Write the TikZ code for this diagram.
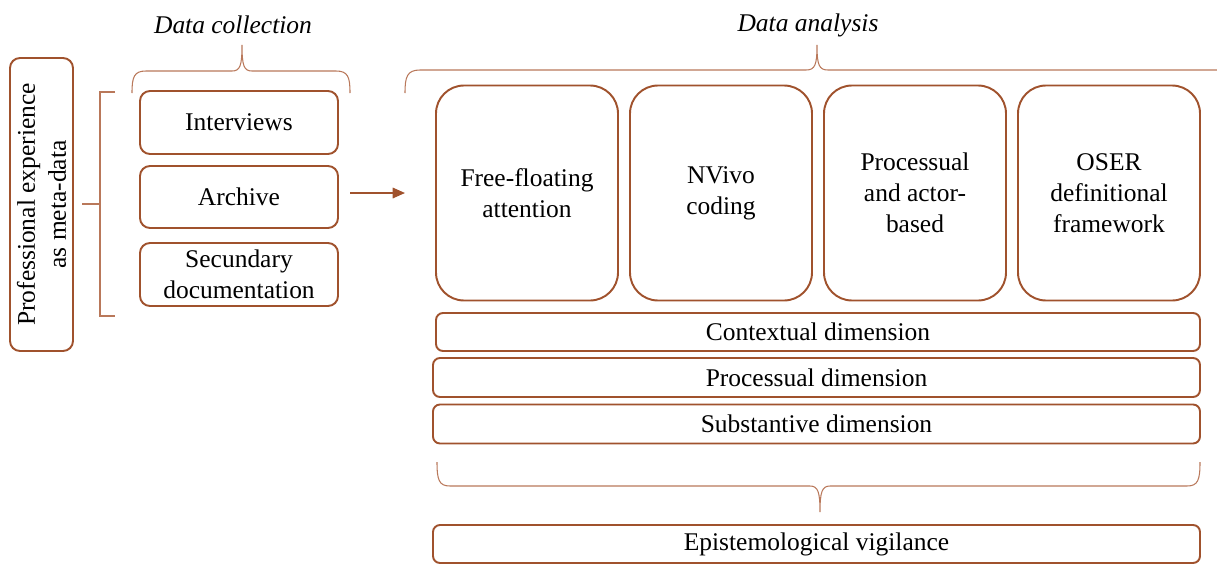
\documentclass[tikz,border=0pt]{standalone}
\usepackage{fontspec}
\setmainfont{Liberation Serif}
\usetikzlibrary{arrows.meta}
\definecolor{brn}{RGB}{160,82,45}
\definecolor{brnlight}{RGB}{185,120,90}
\def\px{0.02cm}
\tikzset{
	box/.style={draw=brn,line width=1.1pt,align=center,inner sep=0pt,
		font=\fontsize{14.5}{17.6}\selectfont},
	smallbox/.style={box,rounded corners=10*\px},
	tallbox/.style={box,rounded corners=28*\px,minimum width=182*\px,minimum height=215*\px},
	dimbox/.style={box,rounded corners=7*\px,minimum width=767*\px,minimum height=38*\px},
	brace/.style={draw=brnlight,line width=0.6pt},
	heading/.style={font=\fontsize{14.5}{17.6}\selectfont\itshape}
}
\begin{document}
\begin{tikzpicture}[>={Triangle[length=7pt,width=6pt]},x=0.02cm,y=-0.02cm]
	\useasboundingbox (0,0) rectangle (1217,565);
	% left side
	\node[smallbox,rotate=90,minimum width=293*\px,minimum height=63*\px] (prof) at (41.5,204.5) {Professional experience\\as meta-data};
	\draw[brace] (115,92) -- (100,92) -- (100,316) -- (115,316);
	\draw[brace] (82,204) -- (100,204);
	% data collection
	\node[heading] (coll) at (233,25) {Data collection};
	\node[smallbox,minimum width=198*\px,minimum height=63*\px] (interv) at (239,122.5) {Interviews};
	\node[smallbox,minimum width=198*\px,minimum height=62*\px] (archive) at (239,197) {Archive};
	\node[smallbox,minimum width=198*\px,minimum height=63*\px] (secund) at (239,274.5) {Secundary\\documentation};
	\draw[brace] (132,93) .. controls (132,77) and (134,71) .. (146,71) -- (232,71)
		.. controls (240,71) and (242,66) .. (242,45) .. controls (242,66) and (244,71) .. (252,71)
		-- (336,71) .. controls (348,71) and (350,77) .. (350,93);
	% arrow
	\coordinate (arrstart) at (350,193);
	\coordinate (arrend) at (405,193);
	\draw[->,draw=brn,line width=0.9pt] (arrstart) -- (arrend);
	% data analysis
	\node[heading] (anal) at (808,25) {Data analysis};
	\draw[brace] (405,93) .. controls (405,77) and (407,70) .. (420,70) -- (806,70)
		.. controls (815,70) and (817,65) .. (817,45) .. controls (817,65) and (819,70) .. (828,70)
		-- (1217,70);
	\node[tallbox] (ffa) at (527,193) {Free-floating\\attention};
	\node[tallbox] (nvivo) at (721,193) {NVivo\\coding};
	\node[tallbox] (proc) at (915,193) {Processual\\and actor-\\based};
	\node[tallbox] (oser) at (1109,193) {OSER\\definitional\\framework};
	\node[dimbox,minimum width=764*\px] (context) at (818,332) {Contextual dimension};
	\node[dimbox,minimum height=39*\px] (procdim) at (816.5,377.5) {Processual dimension};
	\node[dimbox,minimum height=39*\px] (subst) at (816.5,424) {Substantive dimension};
	\draw[brace] (437,462) .. controls (437,480) and (439,486) .. (450,486) -- (810,486)
		.. controls (818,486) and (820,492) .. (820,512) .. controls (820,492) and (822,486) .. (830,486)
		-- (1187,486) .. controls (1198,486) and (1200,480) .. (1200,462);
	\node[dimbox] (epist) at (816.5,544) {Epistemological vigilance};
\end{tikzpicture}
\end{document}
